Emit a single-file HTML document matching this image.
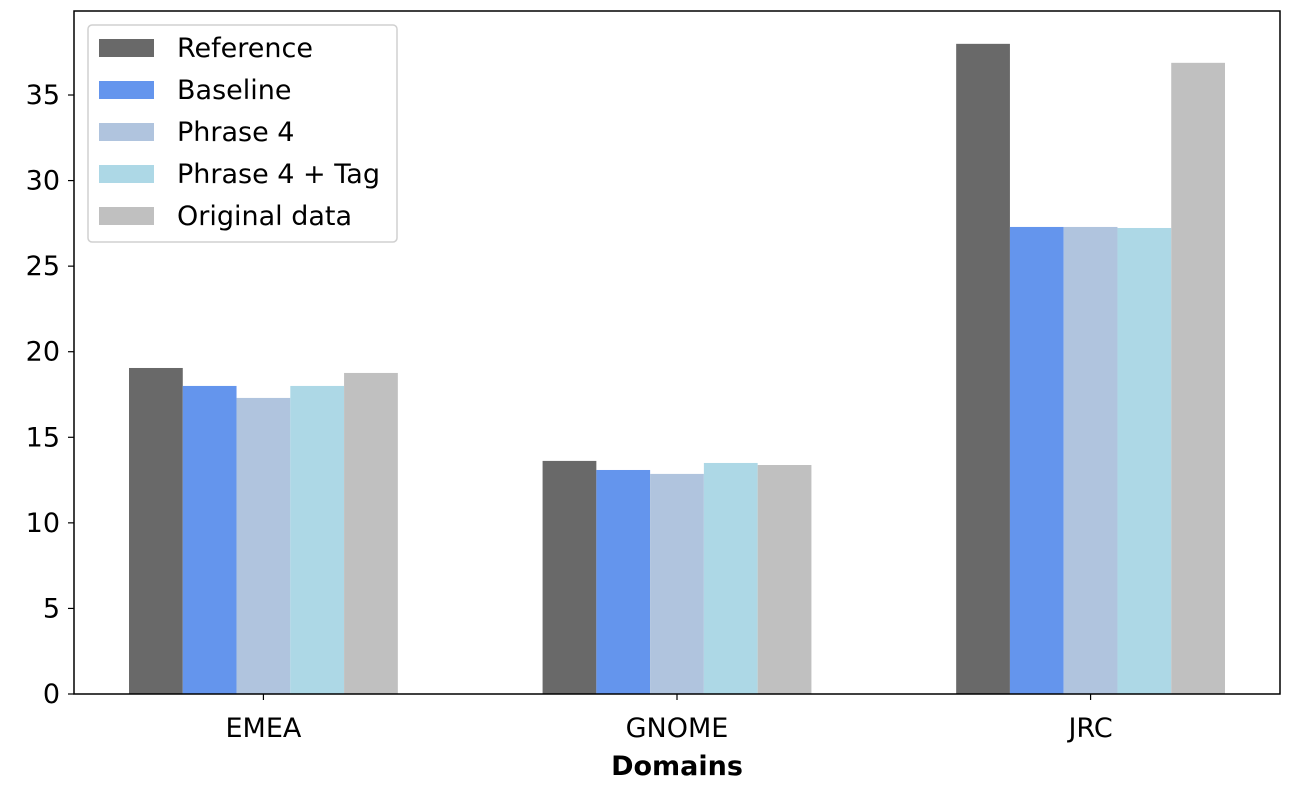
<!DOCTYPE html>
<html><head><meta charset="utf-8"><style>
body{margin:0;background:#fff}
svg text{font-family:"DejaVu Sans","Liberation Sans",sans-serif;fill:#000}
</style></head><body>
<svg id="chart" width="1294" height="790"></svg>
<script>
const categories=["EMEA","GNOME","JRC"];
const seriesNames=["Reference","Baseline","Phrase 4","Phrase 4 + Tag","Original data"];
const seriesColors=["#696969","#6495ed","#b0c4de","#add8e6","#c0c0c0"];
const refVals=[19.05,13.62,37.99];
const baseVals=[18.0,13.09,27.29];
const p4Vals=[17.3,12.86,27.29];
const p4tVals=[18.0,13.5,27.23];
const origVals=[18.76,13.38,36.88];
const seriesValues=[refVals,baseVals,p4Vals,p4tVals,origVals];
const yTicks=[0,5,10,15,20,25,30,35];

const NS="http://www.w3.org/2000/svg";
const svg=document.getElementById('chart');
const L=74,R=1280,T=11,B=694;
const xmin=-0.458,xmax=2.458;
const pxPerUnit=17.114;
const FS=27;
const xs=v=>L+(v-xmin)/(xmax-xmin)*(R-L);
const ys=v=>B-v*pxPerUnit;
function mk(tag,attrs){const e=document.createElementNS(NS,tag);for(const k in attrs)e.setAttribute(k,attrs[k]);svg.appendChild(e);return e;}
const bw=0.13;
seriesValues.forEach((vals,si)=>{
  vals.forEach((v,ci)=>{
    const x0=xs(ci+(si-2.5)*bw), x1=xs(ci+(si-1.5)*bw);
    const r=mk('rect',{x:x0,y:ys(v),width:x1-x0,height:ys(0)-ys(v),fill:seriesColors[si]});
    
    
  });
});
const frame=mk('rect',{x:L,y:T,width:R-L,height:B-T,fill:'none',stroke:'#000','stroke-width':1.5});


yTicks.forEach(t=>{
  const y=ys(t);
  mk('line',{x1:L-6,x2:L,y1:y,y2:y,stroke:'#000','stroke-width':1.2});
  const tx=mk('text',{x:L-14,y:y+9,'text-anchor':'end','font-size':FS});
  tx.textContent=t;
  
  
});
categories.forEach((c,ci)=>{
  const x=xs(ci);
  mk('line',{x1:x,x2:x,y1:B,y2:B+6,stroke:'#000','stroke-width':1.2});
  const tx=mk('text',{x:x,y:737,'text-anchor':'middle','font-size':FS});
  tx.textContent=c;
  
  
});
const xt=mk('text',{x:(L+R)/2,y:775,'text-anchor':'middle','font-size':FS,'font-weight':'bold'});
xt.textContent='Domains';


const lg=mk('rect',{x:88,y:25,width:309,height:217,rx:4,fill:'#fff','fill-opacity':0.8,stroke:'#d0d0d0','stroke-width':1.5});


seriesNames.forEach((n,i)=>{
  const y=48+i*42;
  const p=mk('rect',{x:99,y:y-9,width:55,height:18,fill:seriesColors[i]});
  
  
  const t=mk('text',{x:177,y:y+9,'font-size':FS});
  t.textContent=n;
  
  
});
</script>
</body></html>
